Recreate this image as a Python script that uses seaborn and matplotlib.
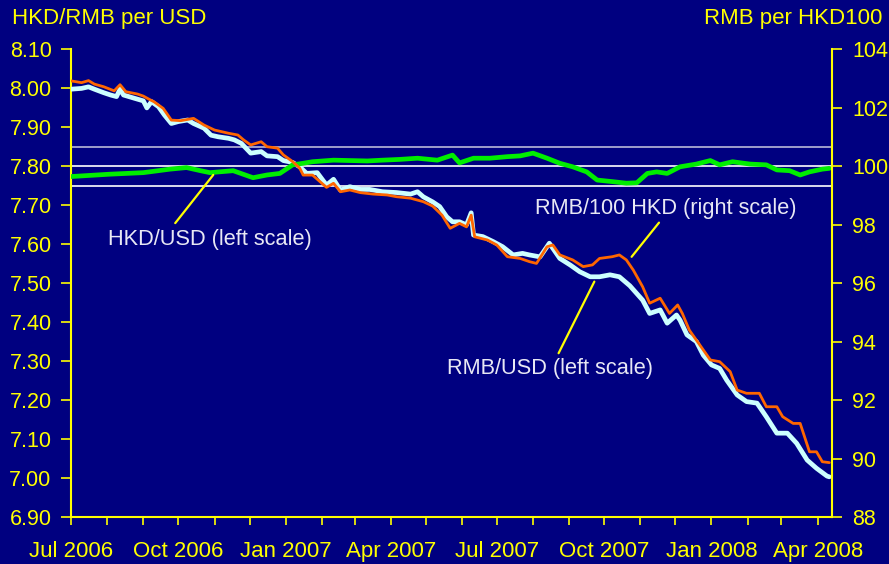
import pandas as pd
import numpy as np
import matplotlib
matplotlib.use('Agg')
import matplotlib.pyplot as plt
import matplotlib.dates as mdates
import seaborn as sns

# RMB/USD (left scale)
rmb_usd_dates = ['2006-07-01', '2006-07-10', '2006-07-16', '2006-07-21', '2006-07-29', '2006-08-04', '2006-08-09',
                 '2006-08-12', '2006-08-15', '2006-08-24', '2006-09-01', '2006-09-04', '2006-09-08', '2006-09-14',
                 '2006-09-19', '2006-09-25', '2006-10-01', '2006-10-09', '2006-10-14', '2006-10-23', '2006-10-29',
                 '2006-11-04', '2006-11-13', '2006-11-18', '2006-11-24', '2006-12-02', '2006-12-11', '2006-12-16',
                 '2006-12-25', '2006-12-30', '2007-01-07', '2007-01-13', '2007-01-19', '2007-01-28', '2007-02-05',
                 '2007-02-11', '2007-02-17', '2007-02-25', '2007-03-06', '2007-03-14', '2007-03-25', '2007-04-06',
                 '2007-04-18', '2007-04-24', '2007-04-29', '2007-05-07', '2007-05-13', '2007-05-19', '2007-05-24',
                 '2007-05-30', '2007-06-05', '2007-06-09', '2007-06-11', '2007-06-19', '2007-06-28', '2007-07-06',
                 '2007-07-15', '2007-07-23', '2007-07-29', '2007-08-07', '2007-08-15', '2007-08-24', '2007-09-02',
                 '2007-09-10', '2007-09-19', '2007-09-27', '2007-10-06', '2007-10-14', '2007-10-23', '2007-11-03',
                 '2007-11-09', '2007-11-18', '2007-11-24', '2007-12-02', '2007-12-05', '2007-12-11', '2007-12-19',
                 '2007-12-25', '2008-01-01', '2008-01-08', '2008-01-14', '2008-01-23', '2008-01-31', '2008-02-09',
                 '2008-02-17', '2008-02-26', '2008-03-06', '2008-03-14', '2008-03-23', '2008-03-31', '2008-04-09',
                 '2008-04-11']
rmb_usd = [7.997, 7.999, 8.003, 7.997, 7.988, 7.982, 7.978, 7.997, 7.982, 7.974, 7.967, 7.949, 7.965, 7.952,
           7.931, 7.909, 7.914, 7.918, 7.909, 7.897, 7.879, 7.875, 7.871, 7.867, 7.858, 7.833, 7.837, 7.826,
           7.824, 7.814, 7.809, 7.798, 7.781, 7.783, 7.751, 7.766, 7.738, 7.747, 7.740, 7.740, 7.734, 7.732,
           7.728, 7.734, 7.721, 7.708, 7.696, 7.670, 7.657, 7.657, 7.649, 7.680, 7.623, 7.619, 7.606, 7.593,
           7.572, 7.576, 7.572, 7.567, 7.602, 7.563, 7.546, 7.529, 7.516, 7.516, 7.521, 7.516, 7.493, 7.456,
           7.422, 7.431, 7.397, 7.418, 7.405, 7.367, 7.350, 7.315, 7.290, 7.281, 7.251, 7.213, 7.196, 7.192,
           7.157, 7.115, 7.115, 7.089, 7.046, 7.025, 7.005, 7.003]

# RMB per HKD100 (right scale)
rmb_hkd_dates = ['2006-07-01', '2006-07-10', '2006-07-16', '2006-07-21', '2006-07-29', '2006-08-07', '2006-08-12',
                 '2006-08-17', '2006-08-27', '2006-09-01', '2006-09-06', '2006-09-10', '2006-09-18', '2006-09-25',
                 '2006-10-03', '2006-10-14', '2006-10-23', '2006-11-01', '2006-11-13', '2006-11-21', '2006-11-26',
                 '2006-12-02', '2006-12-11', '2006-12-16', '2006-12-25', '2006-12-30', '2007-01-07', '2007-01-13',
                 '2007-01-16', '2007-01-24', '2007-02-05', '2007-02-11', '2007-02-17', '2007-02-25', '2007-03-06',
                 '2007-03-17', '2007-03-29', '2007-04-06', '2007-04-18', '2007-04-29', '2007-05-07', '2007-05-15',
                 '2007-05-22', '2007-05-30', '2007-06-05', '2007-06-09', '2007-06-12', '2007-06-23', '2007-07-01',
                 '2007-07-10', '2007-07-21', '2007-07-29', '2007-08-04', '2007-08-13', '2007-08-18', '2007-08-24',
                 '2007-09-04', '2007-09-13', '2007-09-21', '2007-09-27', '2007-10-08', '2007-10-14', '2007-10-20',
                 '2007-10-26', '2007-11-03', '2007-11-09', '2007-11-18', '2007-11-26', '2007-12-03', '2007-12-07',
                 '2007-12-13', '2007-12-22', '2007-12-31', '2008-01-08', '2008-01-17', '2008-01-23', '2008-01-31',
                 '2008-02-11', '2008-02-17', '2008-02-26', '2008-03-02', '2008-03-11', '2008-03-17', '2008-03-25',
                 '2008-03-31', '2008-04-05', '2008-04-11']
rmb_hkd = [102.91, 102.85, 102.92, 102.80, 102.71, 102.57, 102.78, 102.54, 102.46, 102.39, 102.28, 102.20,
           101.97, 101.57, 101.55, 101.63, 101.40, 101.23, 101.12, 101.06, 100.89, 100.72, 100.83, 100.66,
           100.61, 100.38, 100.15, 99.93, 99.69, 99.69, 99.27, 99.41, 99.12, 99.18, 99.09, 99.04, 99.01, 98.95,
           98.90, 98.78, 98.63, 98.32, 97.87, 98.04, 97.92, 98.32, 97.58, 97.47, 97.30, 96.90, 96.84, 96.73,
           96.67, 97.24, 97.30, 96.96, 96.79, 96.56, 96.62, 96.84, 96.90, 96.96, 96.79, 96.44, 95.87, 95.31,
           95.48, 94.96, 95.25, 94.96, 94.39, 93.88, 93.37, 93.31, 92.97, 92.34, 92.23, 92.23, 91.77, 91.77,
           91.43, 91.20, 91.20, 90.23, 90.23, 89.89, 89.86]

# HKD/USD (left scale)
hkd_usd_dates = ['2006-07-01', '2006-08-03', '2006-09-01', '2006-09-24', '2006-10-08', '2006-10-20', '2006-10-28',
                 '2006-11-17', '2006-12-04', '2006-12-16', '2006-12-27', '2007-01-07', '2007-01-16', '2007-01-24',
                 '2007-02-11', '2007-02-25', '2007-03-12', '2007-03-25', '2007-04-09', '2007-04-24', '2007-05-11',
                 '2007-05-24', '2007-05-30', '2007-06-11', '2007-06-25', '2007-07-10', '2007-07-21', '2007-08-01',
                 '2007-08-13', '2007-08-24', '2007-09-04', '2007-09-16', '2007-09-25', '2007-10-08', '2007-10-20',
                 '2007-10-29', '2007-11-07', '2007-11-15', '2007-11-24', '2007-12-05', '2007-12-19', '2007-12-31',
                 '2008-01-08', '2008-01-19', '2008-02-03', '2008-02-17', '2008-02-26', '2008-03-08', '2008-03-17',
                 '2008-03-25', '2008-04-05', '2008-04-11']
hkd_usd = [7.773, 7.779, 7.783, 7.792, 7.796, 7.788, 7.783, 7.788, 7.770, 7.777, 7.781, 7.803, 7.807, 7.811,
           7.815, 7.814, 7.813, 7.815, 7.817, 7.820, 7.815, 7.828, 7.808, 7.820, 7.820, 7.824, 7.826, 7.833,
           7.820, 7.807, 7.798, 7.785, 7.764, 7.760, 7.756, 7.757, 7.781, 7.785, 7.781, 7.798, 7.805, 7.814,
           7.803, 7.811, 7.805, 7.803, 7.790, 7.788, 7.777, 7.785, 7.792, 7.794]

ref_levels = [7.75, 7.80, 7.85]
ref_colors = ['white', 'white', '#b8b8d8']
left_ticks = [6.90, 7.00, 7.10, 7.20, 7.30, 7.40, 7.50, 7.60, 7.70, 7.80, 7.90, 8.00, 8.10]
right_ticks = [88, 90, 92, 94, 96, 98, 100, 102, 104]

navy = '#000080'
yellow = '#ffff00'
label_col = '#e8e8f4'

sns.set_theme(style='white')
plt.rcParams['font.family'] = ['Liberation Sans', 'DejaVu Sans']

df_usd = pd.DataFrame({'date': pd.to_datetime(rmb_usd_dates), 'value': rmb_usd})
df_hkd = pd.DataFrame({'date': pd.to_datetime(rmb_hkd_dates), 'value': rmb_hkd})
df_peg = pd.DataFrame({'date': pd.to_datetime(hkd_usd_dates), 'value': hkd_usd})

fig = plt.figure(figsize=(8.89, 5.64), dpi=100, facecolor=navy)
ax = fig.add_axes([0.0799, 0.0833, 0.8556, 0.8298])
ax.set_facecolor(navy)

for lvl, c in zip(ref_levels, ref_colors):
    ax.axhline(lvl, color=c, lw=1.2, zorder=1)

sns.lineplot(data=df_usd, x='date', y='value', ax=ax, color='#ccffff', lw=3.4, zorder=3)
sns.lineplot(data=df_peg, x='date', y='value', ax=ax, color='#00ee00', lw=3.4, zorder=4)

ax2 = ax.twinx()
ax2.patch.set_visible(False)
sns.lineplot(data=df_hkd, x='date', y='value', ax=ax2, color='#ff6600', lw=2.0, zorder=5)

ax.set_xlim(pd.Timestamp('2006-07-01'), pd.Timestamp('2008-04-13'))
ax.set_ylim(6.90, 8.10)
ax2.set_ylim(88, 104)
ax.set_yticks(left_ticks)
ax.set_yticklabels([f'{t:.2f}' for t in left_ticks])
ax2.set_yticks(right_ticks)

ax.xaxis.set_major_locator(mdates.MonthLocator(bymonth=[1, 4, 7, 10]))
ax.xaxis.set_major_formatter(mdates.DateFormatter('%b %Y'))
ax.xaxis.set_minor_locator(mdates.MonthLocator())

for a in (ax, ax2):
    a.set_xlabel('')
    a.set_ylabel('')
    for s in a.spines.values():
        s.set_visible(False)

ax.spines['left'].set_visible(True)
ax.spines['bottom'].set_visible(True)
ax2.spines['right'].set_visible(True)
for s in (ax.spines['left'], ax.spines['bottom'], ax2.spines['right']):
    s.set_color(yellow)
    s.set_linewidth(1.5)

ax.tick_params(axis='y', which='both', left=True, length=7, width=1.2, color=yellow, labelcolor=yellow,
               labelsize=15.5, pad=7)
ax.tick_params(axis='x', which='both', bottom=True, length=6, width=1.2, color=yellow, labelcolor=yellow,
               labelsize=16, pad=11)
ax2.tick_params(axis='y', which='both', right=True, length=7, width=1.2, color=yellow, labelcolor=yellow,
                labelsize=15.5, pad=8)

fig.text(0.0135, 0.968, 'HKD/RMB per USD', color=yellow, fontsize=16, ha='left', va='center')
fig.text(0.992, 0.968, 'RMB per HKD100', color=yellow, fontsize=16, ha='right', va='center')

# leader lines and series labels
ax.plot([0.137, 0.187], [0.628, 0.731], transform=ax.transAxes, color=yellow, lw=1.6, zorder=6)
ax.text(0.183, 0.592, 'HKD/USD (left scale)', transform=ax.transAxes, color=label_col, fontsize=15.7,
        ha='center', va='center', zorder=6)
ax.plot([0.737, 0.773], [0.556, 0.629], transform=ax.transAxes, color=yellow, lw=1.6, zorder=6)
ax.text(0.782, 0.660, 'RMB/100 HKD (right scale)', transform=ax.transAxes, color=label_col, fontsize=15.7,
        ha='center', va='center', zorder=6)
ax.plot([0.641, 0.688], [0.350, 0.503], transform=ax.transAxes, color=yellow, lw=1.6, zorder=6)
ax.text(0.630, 0.318, 'RMB/USD (left scale)', transform=ax.transAxes, color=label_col, fontsize=15.7,
        ha='center', va='center', zorder=6)

fig.savefig('out.png', dpi=100, facecolor=navy)
